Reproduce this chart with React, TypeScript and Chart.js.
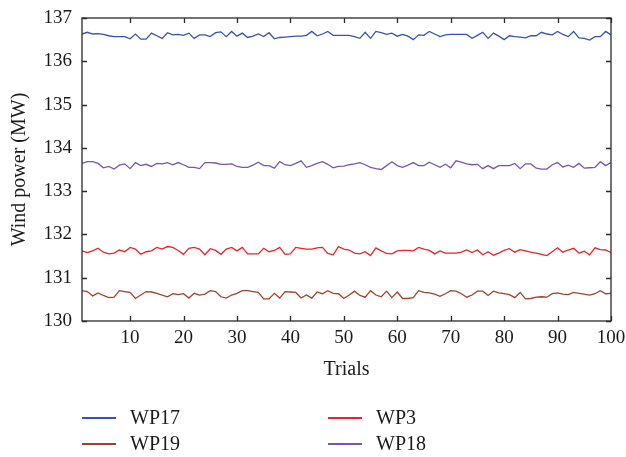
import React, { useEffect, useRef } from "react";
import { Chart, registerables } from "chart.js";

Chart.register(...registerables);

const TRIALS: number[] = Array.from({ length: 100 }, (_, i) => i + 1);
const X_TICKS = [10, 20, 30, 40, 50, 60, 70, 80, 90, 100];
const Y_TICKS = [130, 131, 132, 133, 134, 135, 136, 137];

const WP17 = [
  136.63, 136.67, 136.63, 136.64, 136.62, 136.59, 136.57, 136.57, 136.57, 136.52,
  136.63, 136.51, 136.51, 136.65, 136.59, 136.53, 136.66, 136.61, 136.62, 136.60,
  136.65, 136.53, 136.61, 136.61, 136.57, 136.66, 136.68, 136.57, 136.69, 136.58,
  136.65, 136.55, 136.58, 136.63, 136.57, 136.66, 136.52, 136.55, 136.56, 136.57,
  136.58, 136.58, 136.60, 136.69, 136.59, 136.63, 136.69, 136.60, 136.60, 136.60,
  136.60, 136.57, 136.53, 136.67, 136.53, 136.69, 136.66, 136.62, 136.65, 136.58,
  136.62, 136.58, 136.50, 136.61, 136.60, 136.69, 136.63, 136.57, 136.61, 136.62,
  136.62, 136.62, 136.62, 136.53, 136.60, 136.67, 136.53, 136.65, 136.58, 136.50,
  136.59, 136.57, 136.56, 136.54, 136.59, 136.59, 136.67, 136.63, 136.61, 136.69,
  136.62, 136.57, 136.69, 136.54, 136.53, 136.49, 136.57, 136.57, 136.69, 136.61,
];

const WP3 = [
  131.62, 131.58, 131.62, 131.68, 131.59, 131.55, 131.57, 131.64, 131.60, 131.70,
  131.66, 131.54, 131.60, 131.62, 131.70, 131.66, 131.72, 131.70, 131.63, 131.54,
  131.68, 131.70, 131.66, 131.53, 131.67, 131.63, 131.54, 131.66, 131.70, 131.62,
  131.70, 131.55, 131.55, 131.55, 131.68, 131.60, 131.63, 131.70, 131.54, 131.55,
  131.70, 131.68, 131.66, 131.66, 131.69, 131.70, 131.56, 131.53, 131.72, 131.66,
  131.64, 131.57, 131.55, 131.60, 131.51, 131.69, 131.62, 131.56, 131.55, 131.62,
  131.63, 131.63, 131.62, 131.70, 131.66, 131.63, 131.55, 131.62, 131.57, 131.57,
  131.57, 131.59, 131.64, 131.58, 131.64, 131.53, 131.60, 131.52, 131.57, 131.63,
  131.67, 131.59, 131.65, 131.62, 131.59, 131.57, 131.54, 131.51, 131.60, 131.69,
  131.59, 131.64, 131.68, 131.57, 131.61, 131.53, 131.69, 131.65, 131.64, 131.58,
];

const WP19 = [
  130.70, 130.68, 130.58, 130.65, 130.59, 130.54, 130.55, 130.70, 130.68, 130.66,
  130.52, 130.60, 130.68, 130.67, 130.64, 130.60, 130.56, 130.63, 130.61, 130.63,
  130.53, 130.64, 130.60, 130.62, 130.70, 130.68, 130.56, 130.53, 130.60, 130.64,
  130.70, 130.70, 130.68, 130.66, 130.51, 130.51, 130.64, 130.53, 130.68, 130.67,
  130.66, 130.53, 130.60, 130.53, 130.67, 130.63, 130.70, 130.64, 130.63, 130.52,
  130.60, 130.69, 130.59, 130.55, 130.70, 130.60, 130.56, 130.69, 130.54, 130.67,
  130.52, 130.52, 130.54, 130.70, 130.66, 130.65, 130.62, 130.57, 130.63, 130.70,
  130.69, 130.63, 130.55, 130.60, 130.69, 130.69, 130.59, 130.69, 130.65, 130.63,
  130.61, 130.54, 130.66, 130.51, 130.52, 130.55, 130.56, 130.55, 130.63, 130.65,
  130.62, 130.61, 130.66, 130.64, 130.62, 130.60, 130.63, 130.70, 130.63, 130.64,
];

const WP18 = [
  133.64, 133.68, 133.68, 133.64, 133.54, 133.57, 133.51, 133.60, 133.63, 133.52,
  133.66, 133.59, 133.62, 133.57, 133.64, 133.63, 133.66, 133.61, 133.66, 133.61,
  133.55, 133.55, 133.52, 133.66, 133.66, 133.65, 133.62, 133.62, 133.63, 133.57,
  133.55, 133.55, 133.60, 133.67, 133.59, 133.59, 133.53, 133.68, 133.61, 133.59,
  133.64, 133.70, 133.55, 133.59, 133.64, 133.68, 133.62, 133.54, 133.57, 133.58,
  133.61, 133.63, 133.66, 133.61, 133.55, 133.52, 133.50, 133.59, 133.68, 133.59,
  133.55, 133.60, 133.66, 133.59, 133.59, 133.67, 133.61, 133.55, 133.62, 133.54,
  133.70, 133.67, 133.63, 133.61, 133.62, 133.52, 133.59, 133.52, 133.59, 133.59,
  133.59, 133.64, 133.52, 133.63, 133.63, 133.53, 133.51, 133.51, 133.61, 133.66,
  133.56, 133.60, 133.55, 133.64, 133.53, 133.54, 133.55, 133.68, 133.59, 133.66,
];

const SERIES_NAMES = ["WP17", "WP3", "WP19", "WP18"];
const SERIES_VALUES = [WP17, WP3, WP19, WP18];
const SERIES_COLORS = ["#3653b2", "#ee2226", "#a2402c", "#7756b2"];

const FONT = "'Liberation Serif', 'Times New Roman', serif";

const framePlugin = {
  id: "frameTicks",
  afterDraw(chart: any) {
    const { ctx, chartArea } = chart;
    const { left, right, top, bottom } = chartArea;
    const xs = chart.scales.x;
    const ys = chart.scales.y;
    const len = 5;
    ctx.save();
    ctx.strokeStyle = "#2a2a2a";
    ctx.lineWidth = 1.3;
    ctx.strokeRect(left, top, right - left, bottom - top);
    ctx.beginPath();
    for (const v of X_TICKS) {
      const px = Math.round(xs.getPixelForValue(v)) + 0.5;
      ctx.moveTo(px, bottom);
      ctx.lineTo(px, bottom - len);
      ctx.moveTo(px, top);
      ctx.lineTo(px, top + len);
    }
    for (const v of Y_TICKS) {
      const py = Math.round(ys.getPixelForValue(v)) + 0.5;
      ctx.moveTo(left, py);
      ctx.lineTo(left + len, py);
      ctx.moveTo(right, py);
      ctx.lineTo(right - len, py);
    }
    ctx.stroke();
    ctx.restore();
  },
};

const legendPlugin = {
  id: "gridLegend",
  afterDraw(chart: any) {
    const { ctx } = chart;
    const colX = [82, 328];
    const rowY = [418, 444];
    ctx.save();
    ctx.font = `20px ${FONT}`;
    ctx.textBaseline = "middle";
    ctx.textAlign = "left";
    chart.data.datasets.forEach((ds: any, i: number) => {
      const col = i % 2;
      const row = Math.floor(i / 2);
      const x = colX[col];
      const y = rowY[row];
      ctx.strokeStyle = ds.borderColor;
      ctx.lineWidth = 2;
      ctx.beginPath();
      ctx.moveTo(x, y);
      ctx.lineTo(x + 34, y);
      ctx.stroke();
      ctx.fillStyle = "#1a1a1a";
      ctx.fillText(ds.label, x + 48, y + 1);
    });
    ctx.restore();
  },
};

export default function App() {
  const canvasRef = useRef<HTMLCanvasElement | null>(null);

  useEffect(() => {
    document.body.style.margin = "0";
    const canvas = canvasRef.current;
    if (!canvas) return;
    const chart = new Chart(canvas, {
      type: "line",
      data: {
        datasets: SERIES_NAMES.map((name, i) => ({
          label: name,
          data: SERIES_VALUES[i].map((v, j) => ({ x: TRIALS[j], y: v })),
          borderColor: SERIES_COLORS[i],
          backgroundColor: SERIES_COLORS[i],
          borderWidth: 1.3,
          pointRadius: 0,
          tension: 0,
          fill: false,
        })),
      },
      options: {
        animation: false,
        responsive: false,
        maintainAspectRatio: false,
        devicePixelRatio: 1,
        layout: { padding: { top: 18, right: 15, bottom: 70, left: 0 } },
        plugins: {
          legend: { display: false },
          tooltip: { enabled: false },
        },
        scales: {
          x: {
            type: "linear",
            min: 1,
            max: 100,
            grid: { display: false, drawTicks: false },
            border: { display: false },
            afterBuildTicks: (scale: any) => {
              scale.ticks = X_TICKS.map((v) => ({ value: v }));
            },
            afterFit: (scale: any) => {
              scale.height = 66;
              scale.paddingLeft = 0;
              scale.paddingRight = 0;
            },
            ticks: {
              color: "#1a1a1a",
              font: { family: FONT, size: 19 },
              padding: 6,
              maxRotation: 0,
              autoSkip: false,
            },
            title: {
              display: true,
              text: "Trials",
              color: "#1a1a1a",
              font: { family: FONT, size: 20 },
              padding: { top: 5, bottom: 5 },
            },
          },
          y: {
            type: "linear",
            min: 130,
            max: 137,
            grid: { display: false, drawTicks: false },
            border: { display: false },
            afterBuildTicks: (scale: any) => {
              scale.ticks = Y_TICKS.map((v) => ({ value: v }));
            },
            afterFit: (scale: any) => {
              scale.width = 82;
              scale.paddingTop = 0;
              scale.paddingBottom = 0;
            },
            ticks: {
              color: "#1a1a1a",
              font: { family: FONT, size: 19 },
              padding: 10,
            },
            title: {
              display: true,
              text: "Wind power (MW)",
              color: "#1a1a1a",
              font: { family: FONT, size: 20 },
              padding: { top: 8, bottom: 8 },
            },
          },
        },
      },
      plugins: [framePlugin, legendPlugin],
    });
    return () => chart.destroy();
  }, []);

  return (
    <div style={{ position: "fixed", left: 0, top: 0, width: 626, height: 457, background: "#fff" }}>
      <canvas ref={canvasRef} width={626} height={457} style={{ display: "block", width: 626, height: 457 }} />
    </div>
  );
}
